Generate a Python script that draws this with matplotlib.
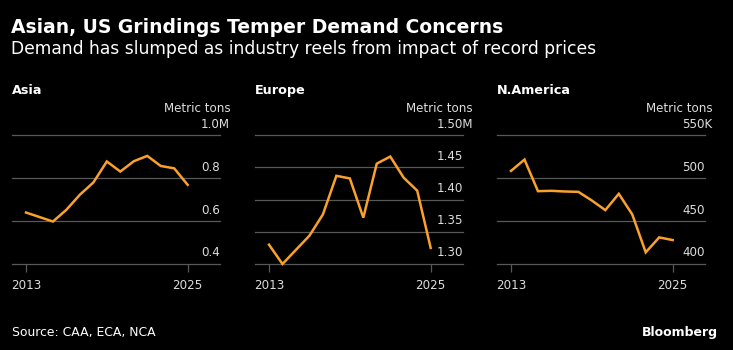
import matplotlib
matplotlib.use("Agg")
import matplotlib.pyplot as plt
from matplotlib import transforms

# ------------------------------------------------------------------ data
years = list(range(2013, 2026))
asia = [0.640, 0.619, 0.598, 0.653, 0.723, 0.780, 0.878, 0.831, 0.879,
        0.904, 0.857, 0.846, 0.769]
europe = [1.330, 1.300, 1.322, 1.344, 1.377, 1.437, 1.433, 1.372, 1.456,
          1.467, 1.434, 1.414, 1.325]
namerica = [508.5, 521.7, 484.9, 485.3, 484.5, 484.1, 474.0, 462.8, 481.8,
            457.8, 413.6, 431.0, 427.9]

panels = ["Asia", "Europe", "N.America"]
yticks = [[0.4, 0.6, 0.8, 1.0], [1.30, 1.35, 1.40, 1.45, 1.50],
          [400, 450, 500, 550]]
ylabels = [["0.4", "0.6", "0.8", "1.0M"],
           ["1.30", "1.35", "1.40", "1.45", "1.50M"],
           ["400", "450", "500", "550K"]]
xticks = [2013, 2025]
unit = "Metric tons"

title = "Asian, US Grindings Temper Demand Concerns"
subtitle = "Demand has slumped as industry reels from impact of record prices"
source = "Source: CAA, ECA, NCA"

# ----------------------------------------------------------------- style
BG = "#000000"
ORANGE = "#F9A12A"
GRID = "#585858"
TXT = "#FFFFFF"
TICK = "#DDDDDD"
W, H = 733, 350

plt.rcParams["font.family"] = "DejaVu Sans"
fig = plt.figure(figsize=(W / 100, H / 100), dpi=100)
fig.patch.set_facecolor(BG)


def fx(px):
    return px / W


def fy(py):
    return 1 - py / H


fig.text(fx(11), fy(33), title, color=TXT, fontsize=13.5, weight="bold",
         va="baseline")
fig.text(fx(11), fy(54.5), subtitle, color=TXT, fontsize=12.3, va="baseline")
fig.text(fx(12), fy(336), source, color=TXT, fontsize=8.9, va="baseline")
fig.text(fx(718), fy(336), "Bloomberg", color=TXT, fontsize=9,
         weight="bold", ha="right", va="baseline")

lefts = [12, 255, 497]
AX_W = 208
top, bottom = 135.3, 264
renderer = fig.canvas.get_renderer()

for i, vals in enumerate([asia, europe, namerica]):
    ax = fig.add_axes([fx(lefts[i]), fy(bottom), AX_W / W, (bottom - top) / H])
    ax.set_facecolor(BG)
    ax.plot(years, vals, color=ORANGE, lw=1.8, clip_on=False, zorder=3,
            solid_joinstyle="miter")
    ax.set_xlim(2011.96, 2027.4)
    ax.set_ylim(yticks[i][0], yticks[i][-1])
    for v in yticks[i][1:]:
        ax.axhline(v, color=GRID, lw=0.9, zorder=1, clip_on=False)
    for s in ["top", "left", "right"]:
        ax.spines[s].set_visible(False)
    ax.spines["bottom"].set_color(GRID)
    ax.spines["bottom"].set_linewidth(0.9)
    ax.set_yticks([])
    ax.set_xticks(xticks)
    ax.set_xticklabels([str(x) for x in xticks])
    ax.tick_params(axis="x", direction="out", length=5.5, width=0.9,
                   color=GRID, labelcolor=TICK, labelsize=8.6, pad=5)

    # value labels sit above their gridlines, left-aligned on a shared edge
    trans = transforms.offset_copy(ax.get_yaxis_transform(), fig=fig,
                                   x=0, y=7.5, units="dots")
    texts = [ax.text(0, v, lab, transform=trans, color=TICK, fontsize=8.6,
                     ha="left", va="baseline")
             for v, lab in zip(yticks[i], ylabels[i])]
    widths = [t.get_window_extent(renderer).width for t in texts]
    numw = max(widths[:-1])
    x0 = 1 - numw / AX_W
    for t in texts:
        t.set_x(x0)
    rx = x0 + widths[-1] / AX_W
    trans_u = transforms.offset_copy(ax.get_yaxis_transform(), fig=fig,
                                     x=0, y=23.5, units="dots")
    ax.text(rx, yticks[i][-1], unit, transform=trans_u, color=TICK,
            fontsize=8.6, ha="right", va="baseline")

    fig.text(fx(lefts[i]), fy(94), panels[i], color=TXT, fontsize=9.2,
             weight="bold", va="baseline")

fig.savefig("out.png", facecolor=BG, dpi=100)
